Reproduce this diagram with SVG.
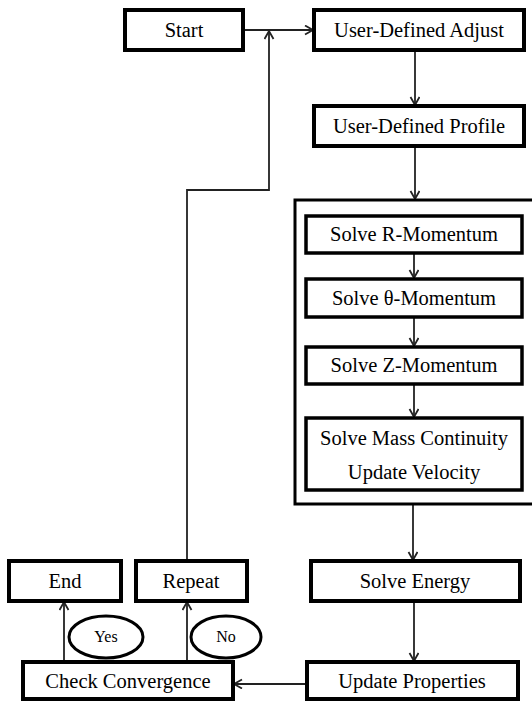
<svg xmlns="http://www.w3.org/2000/svg" width="532" height="701" viewBox="0 0 532 701">
<defs>
<style>
.box{fill:#fff;stroke:#000;stroke-width:4}
.inner{fill:#fff;stroke:#000;stroke-width:3.5}
.outer{fill:none;stroke:#000;stroke-width:3}
.ell{fill:#fff;stroke:#000;stroke-width:3}
.t{font-family:"Liberation Serif","Times New Roman",serif;font-size:20.5px;fill:#000;text-anchor:middle}
.s{font-family:"Liberation Serif","Times New Roman",serif;font-size:16px;fill:#000;text-anchor:middle}
.c{fill:none;stroke:#222;stroke-width:1.8}
</style>
<marker id="arr" markerUnits="userSpaceOnUse" markerWidth="12" markerHeight="12" refX="9" refY="5" orient="auto">
<path d="M1,0.5 L9,5 L1,9.5" fill="none" stroke="#222" stroke-width="1.8"/>
</marker>
</defs>
<rect width="532" height="701" fill="#fff"/>
<g id="connectors">
<line class="c" x1="243" y1="30" x2="313" y2="30" marker-end="url(#arr)"/>
<line class="c" x1="415" y1="50" x2="415" y2="105" marker-end="url(#arr)"/>
<line class="c" x1="415" y1="146" x2="415" y2="199" marker-end="url(#arr)"/>
<line class="c" x1="414" y1="253" x2="414" y2="278" marker-end="url(#arr)"/>
<line class="c" x1="414" y1="317" x2="414" y2="346" marker-end="url(#arr)"/>
<line class="c" x1="414" y1="384" x2="414" y2="417" marker-end="url(#arr)"/>
<line class="c" x1="413" y1="505" x2="413" y2="560" marker-end="url(#arr)"/>
<line class="c" x1="414" y1="601" x2="414" y2="661" marker-end="url(#arr)"/>
<line class="c" x1="307" y1="684" x2="234" y2="684" marker-end="url(#arr)"/>
<line class="c" x1="64" y1="662" x2="64" y2="602" marker-end="url(#arr)"/>
<line class="c" x1="187" y1="662" x2="187" y2="602" marker-end="url(#arr)"/>
<polyline class="c" points="187,561 187,190 269,190 269,31" marker-end="url(#arr)"/>
</g>
<g id="start"><rect class="box" x="125" y="10" width="118" height="40"/><text class="t" x="184" y="37">Start</text></g>
<g id="adjust"><rect class="box" x="314" y="10" width="210" height="40"/><text class="t" x="419" y="37">User-Defined Adjust</text></g>
<g id="profile"><rect class="box" x="314" y="106" width="210" height="40"/><text class="t" x="419" y="133">User-Defined Profile</text></g>
<g id="momentum-group"><rect class="outer" x="295" y="200" width="240" height="304"/></g>
<g id="r-momentum"><rect class="inner" x="306" y="216" width="216" height="37"/><text class="t" x="414" y="241">Solve R-Momentum</text></g>
<g id="theta-momentum"><rect class="inner" x="306" y="279" width="216" height="38"/><text class="t" x="414" y="305">Solve θ-Momentum</text></g>
<g id="z-momentum"><rect class="inner" x="306" y="347" width="216" height="37"/><text class="t" x="414" y="372">Solve Z-Momentum</text></g>
<g id="mass"><rect class="inner" x="306" y="418" width="216" height="72"/><text class="t" x="414" y="445">Solve Mass Continuity</text><text class="t" x="414" y="479">Update Velocity</text></g>
<g id="energy"><rect class="box" x="311" y="561" width="209" height="40"/><text class="t" x="415" y="588">Solve Energy</text></g>
<g id="update-properties"><rect class="box" x="307" y="662" width="211" height="37"/><text class="t" x="412" y="688">Update Properties</text></g>
<g id="check"><rect class="box" x="23" y="662" width="210" height="37"/><text class="t" x="128" y="688">Check Convergence</text></g>
<g id="end"><rect class="box" x="9" y="561" width="112" height="40"/><text class="t" x="65" y="588">End</text></g>
<g id="repeat"><rect class="box" x="136" y="561" width="111" height="40"/><text class="t" x="191" y="588">Repeat</text></g>
<g id="yes"><ellipse class="ell" cx="106" cy="637" rx="37" ry="21"/><text class="s" x="106" y="642">Yes</text></g>
<g id="no"><ellipse class="ell" cx="226" cy="637" rx="35" ry="21"/><text class="s" x="226" y="642">No</text></g>
</svg>
